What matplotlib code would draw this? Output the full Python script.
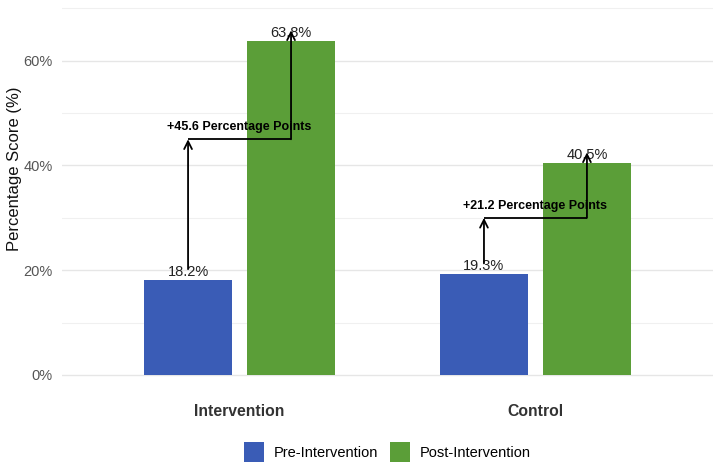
import matplotlib
matplotlib.use("Agg")
import matplotlib.pyplot as plt
import numpy as np

groups = ["Intervention", "Control"]
phases = ["Pre-Intervention", "Post-Intervention"]
pre_values = [18.2, 19.3]
post_values = [63.8, 40.5]
changes = ["+45.6 Percentage Points", "+21.2 Percentage Points"]
elbow_levels = [45.0, 30.0]
yticks = [0, 20, 40, 60]
ytick_labels = ["0%", "20%", "40%", "60%"]

colors = ["#3A5CB6", "#5B9E38"]

plt.rcParams['font.family'] = ['Liberation Sans', 'DejaVu Sans']

W, H = 720, 472
fig = plt.figure(figsize=(W / 100, H / 100), dpi=100)
left, right, top, bottom = 62, 713, 1, 393
aw, ah = right - left, bottom - top
ax = fig.add_axes([left / W, 1 - bottom / H, aw / W, ah / H])

x = np.arange(1, len(groups) + 1)
off = 0.174
bw = 0.30
b1 = ax.bar(x - off, pre_values, bw, color=colors[0], label=phases[0], zorder=2)
b2 = ax.bar(x + off, post_values, bw, color=colors[1], label=phases[1], zorder=2)

for xi, v in zip(x - off, pre_values):
    ax.annotate(f"{v:.1f}%", (xi, v), xytext=(0, 0.5), textcoords="offset points",
                ha="center", va="bottom", fontsize=10.5, color="#222222", zorder=3)
for xi, v in zip(x + off, post_values):
    ax.annotate(f"{v:.1f}%", (xi, v), xytext=(0, 0.5), textcoords="offset points",
                ha="center", va="bottom", fontsize=10.5, color="#222222", zorder=3)

for i in range(len(groups)):
    xp, xq = x[i] - off, x[i] + off
    y0 = pre_values[i] + 2
    y1 = post_values[i] + 2
    ye = elbow_levels[i]
    ap = dict(arrowstyle="->", color="black", lw=1.3, shrinkA=0, shrinkB=0,
              mutation_scale=14)
    ax.annotate("", xy=(xp, ye), xytext=(xp, y0), arrowprops=ap, zorder=4)
    ax.plot([xp, xq], [ye, ye], color="black", lw=1.3, zorder=4, solid_capstyle="butt")
    ax.annotate("", xy=(xq, y1), xytext=(xq, ye), arrowprops=ap, zorder=4)
    ax.text(x[i], ye + 1.2, changes[i], ha="center", va="bottom", fontsize=9,
            fontweight="bold", color="black", zorder=5)

ax.set_xlim(0.4, 2.6)
ax.set_ylim(-3.44, 71.4)
ax.set_yticks(yticks)
ax.set_yticklabels(ytick_labels)
ax.set_yticks([10, 30, 50, 70], minor=True)
ax.set_xticks(x)
ax.set_xticklabels(groups, fontweight="bold", fontsize=11.3, color="#333333")
ax.tick_params(axis="y", which="both", length=0, pad=6.5, labelsize=10.5, labelcolor="#555555")
ax.tick_params(axis="x", length=0, pad=8)
ax.grid(axis="y", which="major", color="#E6E6E6", lw=1.0, zorder=0)
ax.grid(axis="y", which="minor", color="#F0F0F0", lw=0.8, zorder=0)
ax.grid(axis="x", visible=False)
for s in ax.spines.values():
    s.set_visible(False)
ax.set_ylabel("Percentage Score (%)", fontsize=12, color="#111111")
ax.yaxis.set_label_coords((22 - left) / aw, (bottom - 169) / ah)

fig.legend(handles=[b1, b2], labels=phases, loc="center", bbox_to_anchor=(387 / W, 1 - 452 / H),
           ncol=2, frameon=False, fontsize=10.5, handlelength=1.4, handleheight=1.8,
           handletextpad=0.65, columnspacing=0.8)

fig.savefig("out.png", dpi=100)
